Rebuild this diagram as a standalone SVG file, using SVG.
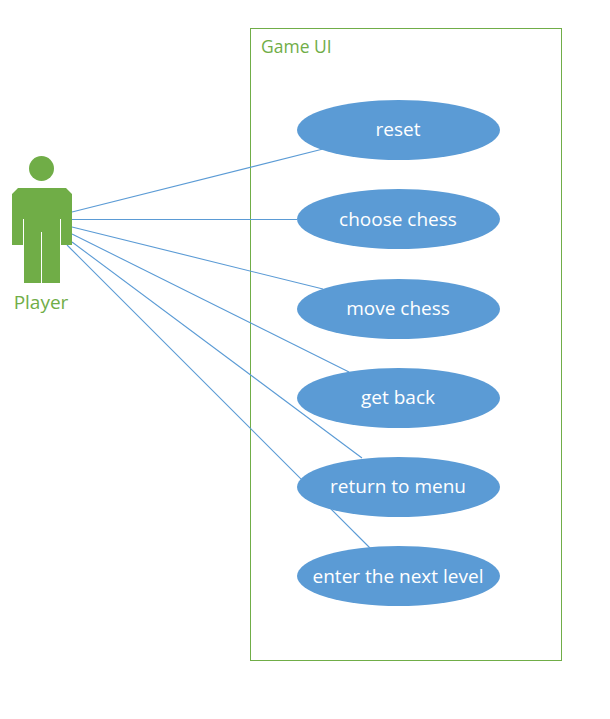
<svg xmlns="http://www.w3.org/2000/svg" width="610" height="719" viewBox="0 0 610 719">
<style>
text{font-family:"Open Sans","Noto Sans","Liberation Sans",sans-serif}
.u ellipse{fill:#5b9bd5}
.u text{fill:#fff;font-size:19px;text-anchor:middle}
.g{fill:#70ad47}
#connectors line{stroke:#5b9bd5;stroke-width:1.100}
</style>
<rect width="610" height="719" fill="#fff"/>
<g id="game-ui"><rect x="250.500" y="28.500" width="311" height="632" fill="none" stroke="#70ad47" stroke-width="1"/><text x="261" y="53" font-size="17.500" class="g">Game UI</text></g>
<g id="connectors">
<line x1="72" y1="212" x2="323" y2="149"/>
<line x1="72" y1="219.500" x2="297" y2="219.500"/>
<line x1="72" y1="227" x2="323" y2="289"/>
<line x1="72" y1="234" x2="349" y2="372"/>
<line x1="72" y1="242" x2="362" y2="458"/>
<line x1="67" y1="245" x2="370" y2="548"/>
</g>
<g id="player">
<circle class="g" cx="41.500" cy="168.500" r="12.500"/>
<path class="g" d="M18 188H66L72 194V245H61V219H60V283H42V232H41V283H24V219H23V245H12V194Z"/>
<text x="41" y="309" font-size="19" text-anchor="middle" class="g">Player</text>
</g>
<g id="reset" class="u"><ellipse cx="398.500" cy="130" rx="101.500" ry="30"/><text x="398" y="136">reset</text></g>
<g id="choose-chess" class="u"><ellipse cx="398.500" cy="219" rx="101.500" ry="30"/><text x="398" y="225.500">choose chess</text></g>
<g id="move-chess" class="u"><ellipse cx="398.500" cy="309" rx="101.500" ry="30"/><text x="398" y="315">move chess</text></g>
<g id="get-back" class="u"><ellipse cx="398.500" cy="398" rx="101.500" ry="30"/><text x="398" y="404">get back</text></g>
<g id="return-to-menu" class="u"><ellipse cx="398.500" cy="487" rx="101.500" ry="30"/><text x="398" y="493">return to menu</text></g>
<g id="enter-next-level" class="u"><ellipse cx="398.500" cy="576" rx="101.500" ry="30"/><text x="398" y="582.500">enter the next level</text></g>
</svg>
